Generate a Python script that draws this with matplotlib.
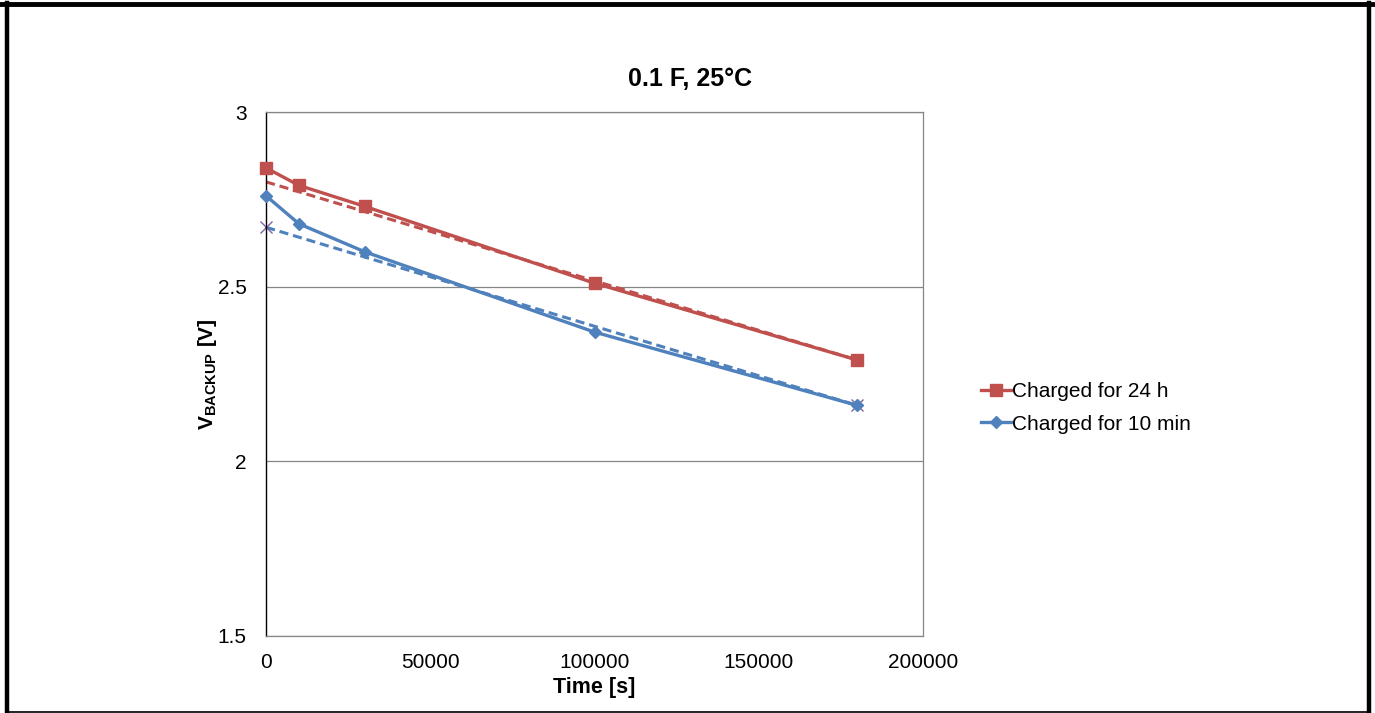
import matplotlib.pyplot as plt
from matplotlib.lines import Line2D

plt.rcParams['font.family'] = ['Liberation Sans', 'DejaVu Sans']
plt.rcParams['mathtext.fontset'] = 'custom'
plt.rcParams['mathtext.rm'] = 'Liberation Sans'
plt.rcParams['mathtext.bf'] = 'Liberation Sans:bold'

# ---- data ----
time_s = [0, 10000, 30000, 100000, 180000]
v_24h = [2.84, 2.79, 2.73, 2.51, 2.29]
v_10min = [2.76, 2.68, 2.60, 2.37, 2.16]

fit_time = [0, 180000]
fit_24h = [2.80, 2.29]
fit_10min = [2.67, 2.16]

RED = '#C0504D'
BLUE = '#4F81BD'
PURPLE = '#8064A2'

fig = plt.figure(figsize=(13.75, 7.13), dpi=100)
ax = fig.add_axes([0.1935, 0.108, 0.4778, 0.7349])

# trend lines (dashed)
ax.plot(fit_time, fit_24h, color=RED, lw=2.2, ls=(0, (3, 1.6)), zorder=2,
        clip_on=False)
ax.plot(fit_time, fit_10min, color=BLUE, lw=2.2, ls=(0, (3, 1.6)), zorder=2,
        marker='x', markersize=8, markeredgecolor=PURPLE, markeredgewidth=1.0,
        clip_on=False)

# measured
ax.plot(time_s, v_24h, color=RED, lw=2.4, marker='s', markersize=8,
        label='Charged for 24 h', zorder=3, clip_on=False)
ax.plot(time_s, v_10min, color=BLUE, lw=2.4, marker='D', markersize=6,
        label='Charged for 10 min', zorder=3, clip_on=False)

ax.set_xlim(0, 200000)
ax.set_ylim(1.5, 3.0)
ax.set_xticks([0, 50000, 100000, 150000, 200000])
ax.set_yticks([1.5, 2, 2.5, 3])
ax.set_yticklabels(['1.5', '2', '2.5', '3'])
ax.tick_params(length=0, labelsize=15)
ax.tick_params(axis='y', pad=14)
ax.tick_params(axis='x', pad=12)
ax.yaxis.grid(True, color='#868686', lw=0.9)
ax.set_axisbelow(True)
for side in ['top', 'right', 'bottom']:
    ax.spines[side].set_color('#868686')
    ax.spines[side].set_linewidth(0.9)
ax.spines['left'].set_color('black')
ax.spines['left'].set_linewidth(1.0)

fig.text(0.502, 0.889, '0.1 F, 25°C', fontsize=18, fontweight='bold',
         ha='center', va='center')
ax.set_xlabel('Time [s]', fontsize=15.5, fontweight='bold', labelpad=4)
ax.set_ylabel(r'$\mathbf{V}_{\mathbf{BACKUP}}$ [V]', fontsize=15,
              fontweight='bold', labelpad=-1)

ax.legend(loc='center left', bbox_to_anchor=(1.06, 0.435), frameon=False,
          fontsize=15, handlelength=1.45, handletextpad=0.05, labelspacing=0.64)

# outer border
fig.add_artist(Line2D([0, 1], [0.9944, 0.9944], transform=fig.transFigure,
                      color='black', lw=3.5))
fig.add_artist(Line2D([0.0051, 0.0051], [0.0, 0.996], transform=fig.transFigure,
                      color='black', lw=3.2))
fig.add_artist(Line2D([0.9953, 0.9953], [0.0, 0.996], transform=fig.transFigure,
                      color='black', lw=3.2))
fig.add_artist(Line2D([0.004, 0.996], [0.0014, 0.0014], transform=fig.transFigure,
                      color='black', lw=1.2))

fig.savefig('out.png', dpi=100, facecolor='white')
